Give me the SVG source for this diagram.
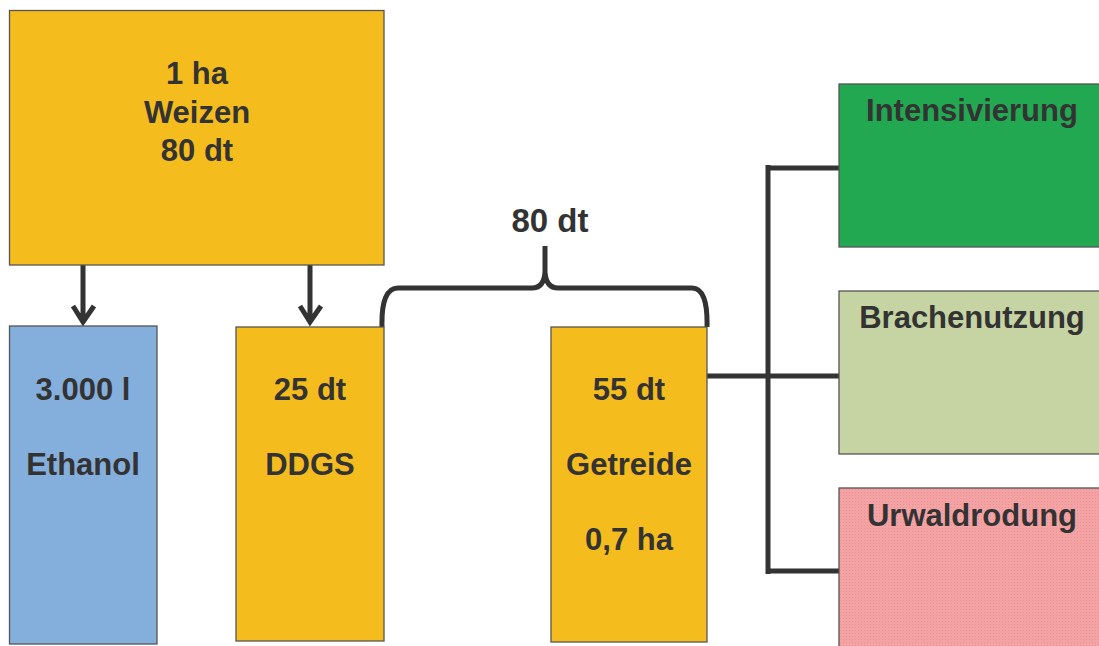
<svg xmlns="http://www.w3.org/2000/svg" width="1099" height="646" viewBox="0 0 1099 646">
<style>
.box{stroke:#555;stroke-width:1.3}
.t{font-family:"Liberation Sans",Arial,sans-serif;font-weight:bold;font-size:31px;fill:#333;text-anchor:middle}
.c{fill:none;stroke:#333;stroke-width:5}
</style>
<defs>
<pattern id="dots" width="3" height="3" patternUnits="userSpaceOnUse">
<rect width="3" height="3" fill="#F4A3A5"/>
<rect width="1" height="1" fill="#EE8F92"/>
</pattern>
</defs>
<rect width="1099" height="646" fill="#fff"/>
<g id="connectors">
<path class="c" d="M83,265 V321 M73,306 L83,322 L94,306"/>
<path class="c" d="M310,265 V321 M300,306 L310,322 L321,306"/>
<path class="c" d="M382,327 Q381,288 398,288 L532,288 Q544,288 545,272 L545,246 M545,272 Q546,288 558,288 L692,288 Q708,288 707,327"/>
<path class="c" d="M707,376 H839 M768,165 V574 M766,168 H839 M766,571 H839"/>
</g>
<g id="weizen"><rect class="box" x="9.5" y="10.5" width="374.5" height="254.5" fill="#F5BC1E"/>
<text class="t" x="197" y="84">1 ha</text><text class="t" x="197" y="123">Weizen</text><text class="t" x="197" y="161">80 dt</text></g>
<g id="ethanol"><rect class="box" x="9.5" y="326" width="147.5" height="318" fill="#84AEDB"/>
<text class="t" x="83" y="400">3.000 l</text><text class="t" x="83" y="475">Ethanol</text></g>
<g id="ddgs"><rect class="box" x="236" y="327" width="148" height="314" fill="#F5BC1E"/>
<text class="t" x="310" y="400">25 dt</text><text class="t" x="310" y="475">DDGS</text></g>
<g id="getreide"><rect class="box" x="551" y="327" width="156" height="315" fill="#F5BC1E"/>
<text class="t" x="629" y="400">55 dt</text><text class="t" x="629" y="475">Getreide</text><text class="t" x="629" y="550">0,7 ha</text></g>
<g id="brace-label"><text class="t" x="550" y="232" style="font-size:33px">80 dt</text></g>
<g id="intensivierung"><rect class="box" x="839" y="84" width="262" height="163" fill="#22A851"/>
<text class="t" x="972" y="121">Intensivierung</text></g>
<g id="brachenutzung"><rect class="box" x="839" y="291" width="262" height="163" fill="#C5D4A2"/>
<text class="t" x="972" y="328">Brachenutzung</text></g>
<g id="urwaldrodung"><rect class="box" x="839" y="488" width="262" height="162" fill="url(#dots)"/>
<text class="t" x="972" y="526">Urwaldrodung</text></g>
</svg>
